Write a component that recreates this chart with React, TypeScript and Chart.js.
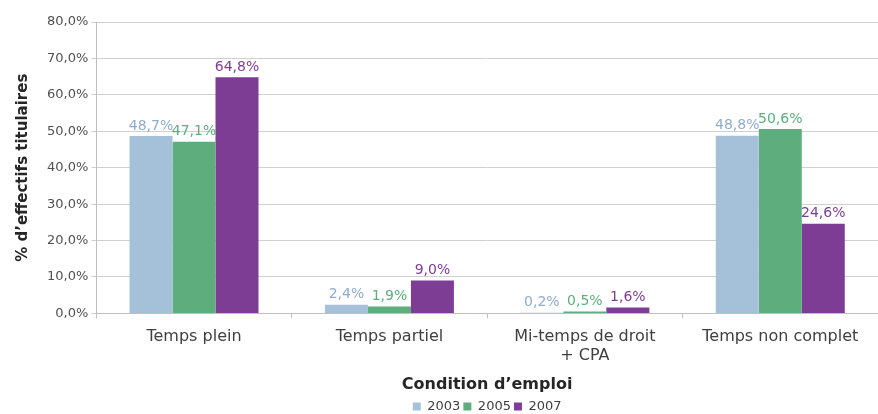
import React, { useEffect, useRef } from "react";
import { Chart, registerables } from "chart.js";

Chart.register(...registerables);

const categories: (string | string[])[] = [
  "Temps plein",
  "Temps partiel",
  ["Mi-temps de droit", "+ CPA"],
  "Temps non complet",
];
const seriesNames = ["2003", "2005", "2007"];
const values2003 = [48.7, 2.4, 0.2, 48.8];
const values2005 = [47.1, 1.9, 0.5, 50.6];
const values2007 = [64.8, 9.0, 1.6, 24.6];
const barColors = ["#A5C0D9", "#5DAE7C", "#7D3D94"];
const labelColors = ["#8FACCB", "#5DAE7C", "#7D3D94"];
const yTicks = [0, 10, 20, 30, 40, 50, 60, 70, 80];

const FONT = "'DejaVu Sans', sans-serif";
const fmt = (v: number) => v.toFixed(1).replace(".", ",") + "%";

const dataLabelPlugin = {
  id: "dataLabels",
  afterDatasetsDraw(chart: any) {
    const ctx = chart.ctx;
    ctx.save();
    ctx.font = `14px ${FONT}`;
    ctx.textAlign = "center";
    ctx.textBaseline = "bottom";
    chart.data.datasets.forEach((ds: any, i: number) => {
      const meta = chart.getDatasetMeta(i);
      meta.data.forEach((bar: any, j: number) => {
        ctx.fillStyle = labelColors[i];
        ctx.fillText(fmt(ds.data[j]), bar.x, bar.y - 3);
      });
    });
    ctx.restore();
  },
};

export default function App() {
  const ref = useRef<HTMLCanvasElement>(null);
  useEffect(() => {
    document.body.style.margin = "0";
    const series = [values2003, values2005, values2007];
    const chart = new Chart(ref.current!, {
      type: "bar",
      data: {
        labels: categories,
        datasets: series.map((d, i) => ({
          label: seriesNames[i],
          data: d,
          backgroundColor: barColors[i],
          barPercentage: 1,
          categoryPercentage: 0.66,
        })),
      },
      options: {
        animation: false,
        responsive: false,
        maintainAspectRatio: false,
        layout: { padding: { top: 22, right: 0, left: 14, bottom: 0 } },
        plugins: {
          legend: {
            position: "bottom",
            fullSize: false,
            labels: {
              boxWidth: 8,
              boxHeight: 8,
              padding: 3,
              color: "#404040",
              font: { family: FONT, size: 13 },
            },
          },
          tooltip: { enabled: false },
        },
        scales: {
          x: {
            grid: {
              drawOnChartArea: false,
              drawTicks: true,
              tickLength: 5,
              color: "#BFBFBF",
            },
            border: { color: "#BFBFBF" },
            ticks: {
              color: "#404040",
              font: { family: FONT, size: 16 },
              maxRotation: 0,
              padding: 9,
            },
            title: {
              display: true,
              text: "Condition d\u2019emploi",
              color: "#262626",
              font: { family: FONT, size: 16, weight: "bold" },
              padding: { top: 0, bottom: 3 },
            },
          },
          y: {
            min: 0,
            max: 80,
            afterBuildTicks: (axis: any) => {
              axis.ticks = yTicks.map((v) => ({ value: v }));
            },
            grid: { color: "#D0D0D0", tickLength: 5 },
            border: { color: "#BFBFBF" },
            ticks: {
              color: "#505050",
              font: { family: FONT, size: 13 },
              callback: (v: any) => fmt(Number(v)),
              padding: 3,
            },
            title: {
              display: true,
              text: "% d\u2019effectifs titulaires",
              color: "#262626",
              font: { family: FONT, size: 15, weight: "bold" },
              padding: { top: 0, bottom: 12 },
            },
          },
        },
      },
      plugins: [dataLabelPlugin],
    });
    return () => chart.destroy();
  }, []);
  return (
    <div style={{ position: "absolute", left: 0, top: 0, width: 878, height: 414, overflow: "hidden" }}>
      <canvas ref={ref} width={878} height={423} style={{ width: 878, height: 423, display: "block" }} />
    </div>
  );
}
